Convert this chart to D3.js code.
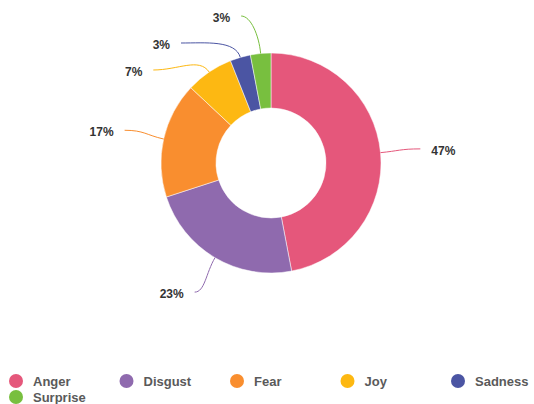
<!doctype html>
<html>
<head>
    <script src="https://cdnjs.cloudflare.com/ajax/libs/d3/7.8.5/d3.min.js"></script>
    <style>
        body { margin: 0; background: #fff; }
        text { font-family: "Liberation Sans", Arial, sans-serif; }
    </style>
</head>
<body>
    <div id="viz"></div>
    <script>
        // data
        var emotions = ["Anger", "Disgust", "Fear", "Joy", "Sadness", "Surprise"];
        var shares = [47, 23, 17, 7, 3, 3];
        var colors = ["#e5577b", "#8f6aae", "#f98e2f", "#fdb812", "#4b55a3", "#78bf3f"];

        var width = 534, height = 404;
        var cx = 271, cy = 163, rOut = 110, rIn = 55, rLab = 150, gap = 27;

        var data = emotions.map((e, i) => ({ name: e, value: shares[i], color: colors[i] }));

        var svg = d3.select("#viz").append("svg")
            .attr("width", width)
            .attr("height", height);

        var g = svg.append("g").attr("transform", "translate(" + cx + "," + cy + ")");

        var pie = d3.pie().sort(null).value(d => d.value);
        var arc = d3.arc().innerRadius(rIn).outerRadius(rOut);
        var arcs = pie(data);

        g.selectAll("path.slice")
            .data(arcs)
            .enter().append("path")
            .attr("class", "slice")
            .attr("d", arc)
            .attr("fill", d => d.data.color)
            .attr("stroke", "#fff")
            .attr("stroke-width", 0.5);

        // label layout: ideal spot on a circle, then push apart vertically per side
        arcs.forEach(d => {
            d.mid = (d.startAngle + d.endAngle) / 2;
            d.side = Math.sin(d.mid) >= 0 ? 1 : -1;
            d.ly = -rLab * Math.cos(d.mid);
        });
        [1, -1].forEach(side => {
            var list = arcs.filter(d => d.side === side).sort((a, b) => a.ly - b.ly);
            var prev = -Infinity;
            list.forEach(d => {
                d.ly = Math.max(d.ly, -147, prev + gap);
                prev = d.ly;
            });
        });
        arcs.forEach(d => {
            d.lx = d.side * Math.sqrt(Math.max(0, rLab * rLab - d.ly * d.ly));
        });

        // leader lines
        g.selectAll("path.leader")
            .data(arcs)
            .enter().append("path")
            .attr("class", "leader")
            .attr("fill", "none")
            .attr("stroke", d => d.data.color)
            .attr("stroke-width", 1)
            .attr("d", d => {
                var p0 = d3.pointRadial(d.mid, rOut);
                var c1 = d3.pointRadial(d.mid, rOut + 18);
                var k = Math.min(25, Math.abs(p0[0] - d.lx) * 0.5);
                var c2 = [d.lx - d.side * k, d.ly];
                return "M" + p0 + "C" + c1 + " " + c2 + " " + [d.lx, d.ly];
            });

        g.selectAll("text.lab")
            .data(arcs)
            .enter().append("text")
            .attr("class", "lab")
            .attr("x", d => d.lx + d.side * 11)
            .attr("y", d => d.ly + 2)
            .attr("dominant-baseline", "central")
            .attr("text-anchor", d => d.side > 0 ? "start" : "end")
            .attr("font-size", 12)
            .attr("font-weight", "bold")
            .attr("fill", "#333")
            .text(d => d.data.value + "%");

        // legend
        var legend = svg.append("g").selectAll("g")
            .data(data)
            .enter().append("g")
            .attr("transform", (d, i) => "translate(" + (16 + (i % 5) * 110.5) + "," + (381 + Math.floor(i / 5) * 16) + ")");

        legend.append("circle")
            .attr("r", 7)
            .attr("fill", d => d.color);

        legend.append("text")
            .attr("x", 17)
            .attr("dy", "0.35em")
            .attr("font-size", 13)
            .attr("font-weight", "bold")
            .attr("fill", "#5a5a5a")
            .text(d => d.name);
    </script>
</body>
</html>
